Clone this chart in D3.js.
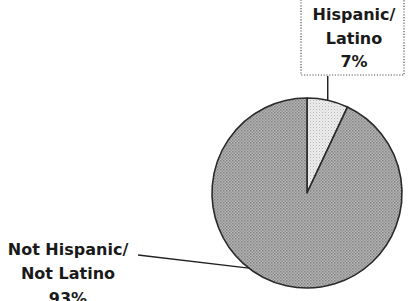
<!DOCTYPE html>
<html><head><meta charset="utf-8">
<script src="https://cdn.jsdelivr.net/npm/d3@7"></script>
<style>html,body{margin:0;padding:0;background:#fff;}svg{display:block;}</style>
</head><body>
<script>
const categories = ["Hispanic/ Latino", "Not Hispanic/ Not Latino"];
const values = [7, 93];
const labelLines = [["Hispanic/", "Latino", "7%"], ["Not Hispanic/", "Not Latino", "93%"]];

const W = 409, H = 301;
const svg = d3.select("body").append("svg").attr("width", W).attr("height", H);
const defs = svg.append("defs");

// dotted textures
const p1 = defs.append("pattern").attr("id", "patLight").attr("patternUnits", "userSpaceOnUse").attr("width", 3).attr("height", 3);
p1.append("rect").attr("width", 3).attr("height", 3).attr("fill", "#ececec");
p1.append("rect").attr("x", 0).attr("y", 0).attr("width", 1).attr("height", 1).attr("fill", "#b8b8b8");
p1.append("rect").attr("x", 1.5).attr("y", 1.5).attr("width", 1).attr("height", 1).attr("fill", "#d0d0d0");
const p2 = defs.append("pattern").attr("id", "patDark").attr("patternUnits", "userSpaceOnUse").attr("width", 3).attr("height", 3);
p2.append("rect").attr("width", 3).attr("height", 3).attr("fill", "#b4b4b4");
p2.append("rect").attr("x", 0).attr("y", 0).attr("width", 1.5).attr("height", 1.5).attr("fill", "#858585");
p2.append("rect").attr("x", 1.5).attr("y", 1.5).attr("width", 1.5).attr("height", 1.5).attr("fill", "#959595");
const fills = ["url(#patLight)", "url(#patDark)"];

const cx = 307, cy = 193, R = 95;
const pie = d3.pie().sort(null).value(d => d)(values);
const arc = d3.arc().innerRadius(0).outerRadius(R);
const g = svg.append("g").attr("transform", `translate(${cx},${cy})`);
g.selectAll("path").data(pie).join("path")
  .attr("d", arc).attr("fill", (d, i) => fills[i])
  .attr("stroke", "#2a2a2a").attr("stroke-width", 1.6).attr("stroke-linejoin", "round");

function edge(a, r) { return [cx + r * Math.sin(a), cy - r * Math.cos(a)]; }

// Hispanic leader + box
const a0 = (pie[0].startAngle + pie[0].endAngle) / 2;
const e0 = edge(a0, R);
svg.append("line").attr("x1", e0[0]).attr("y1", e0[1]).attr("x2", e0[0]).attr("y2", 76)
  .attr("stroke", "#222").attr("stroke-width", 1.5);
svg.append("rect").attr("x", 301).attr("y", -6).attr("width", 103).attr("height", 81)
  .attr("fill", "none").attr("stroke", "#555").attr("stroke-width", 1.2).attr("stroke-dasharray", "1.2,1.6");

const font = "'DejaVu Sans', sans-serif";
const t0 = svg.append("text").attr("text-anchor", "middle").attr("font-family", font)
  .attr("font-weight", "bold").attr("font-size", 16).attr("fill", "#1a1a1a");
[20, 44, 67].forEach((y, i) => t0.append("tspan").attr("x", 354).attr("y", y).text(labelLines[0][i]));

// Not Hispanic leader
const a1 = pie[1].startAngle + (pie[1].endAngle - pie[1].startAngle) * 0.575;
const e1 = edge(a1, R);
svg.append("line").attr("x1", 138).attr("y1", 255).attr("x2", e1[0]).attr("y2", e1[1])
  .attr("stroke", "#222").attr("stroke-width", 1.3);
const t1 = svg.append("text").attr("text-anchor", "middle").attr("font-family", font)
  .attr("font-weight", "bold").attr("font-size", 16).attr("fill", "#1a1a1a");
[255, 279, 304].forEach((y, i) => t1.append("tspan").attr("x", 68).attr("y", y).text(labelLines[1][i]));
</script>
</body></html>
